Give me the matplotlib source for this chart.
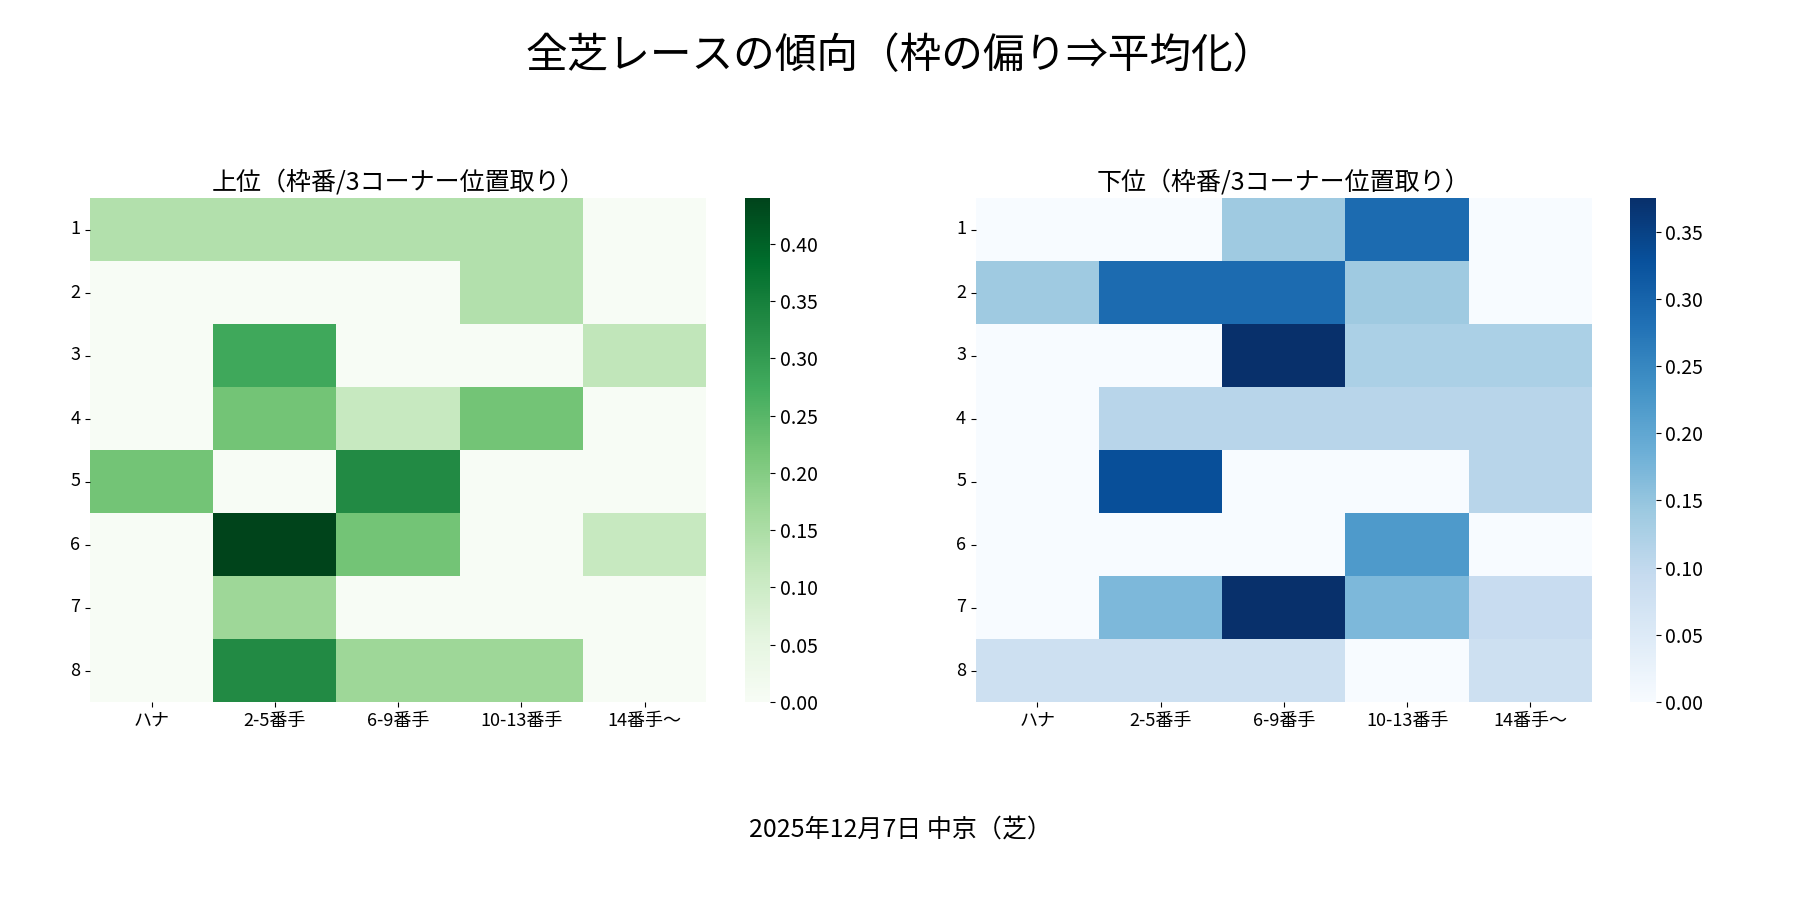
import matplotlib
matplotlib.use("Agg")
import matplotlib.pyplot as plt
import seaborn as sns
import numpy as np

plt.rcParams['font.family'] = ['Noto Sans CJK JP', 'DejaVu Sans']

cols = ['ハナ', '2-5番手', '6-9番手', '10-13番手', '14番手〜']
rows = ['1', '2', '3', '4', '5', '6', '7', '8']

top = np.array([
    [0.14, 0.14, 0.14, 0.14, 0.0],
    [0.0, 0.0, 0.0, 0.14, 0.0],
    [0.0, 0.28, 0.0, 0.0, 0.12],
    [0.0, 0.22, 0.11, 0.22, 0.0],
    [0.22, 0.0, 0.33, 0.0, 0.0],
    [0.0, 0.44, 0.22, 0.0, 0.11],
    [0.0, 0.17, 0.0, 0.0, 0.0],
    [0.0, 0.33, 0.17, 0.17, 0.0],
])
bottom = np.array([
    [0.0, 0.0, 0.14, 0.29, 0.0],
    [0.14, 0.29, 0.29, 0.14, 0.0],
    [0.0, 0.0, 0.375, 0.125, 0.125],
    [0.0, 0.11, 0.11, 0.11, 0.11],
    [0.0, 0.33, 0.0, 0.0, 0.11],
    [0.0, 0.0, 0.0, 0.22, 0.0],
    [0.0, 0.17, 0.375, 0.17, 0.09],
    [0.08, 0.08, 0.08, 0.0, 0.08],
])

fig, axs = plt.subplots(1, 2, figsize=(18, 9), dpi=100)
sns.heatmap(top, ax=axs[0], cmap='Greens', xticklabels=cols, yticklabels=rows)
sns.heatmap(bottom, ax=axs[1], cmap='Blues', xticklabels=cols, yticklabels=rows)
axs[0].set_title('上位（枠番/3コーナー位置取り）', fontsize=18)
axs[1].set_title('下位（枠番/3コーナー位置取り）', fontsize=18)
for ax in axs:
    ax.tick_params(axis='y', rotation=0, labelsize=13)
    ax.tick_params(axis='x', labelsize=13)
    ax.collections[0].colorbar.ax.tick_params(labelsize=14)

fig.suptitle('全芝レースの傾向（枠の偏り⇒平均化）', fontsize=30, y=0.96)
fig.text(0.5, 0.07, '2025年12月7日 中京（芝）', ha='center', fontsize=18)
plt.subplots_adjust(left=0.05, right=0.97, top=0.78, bottom=0.22, wspace=0.15)
plt.savefig('out.png')
